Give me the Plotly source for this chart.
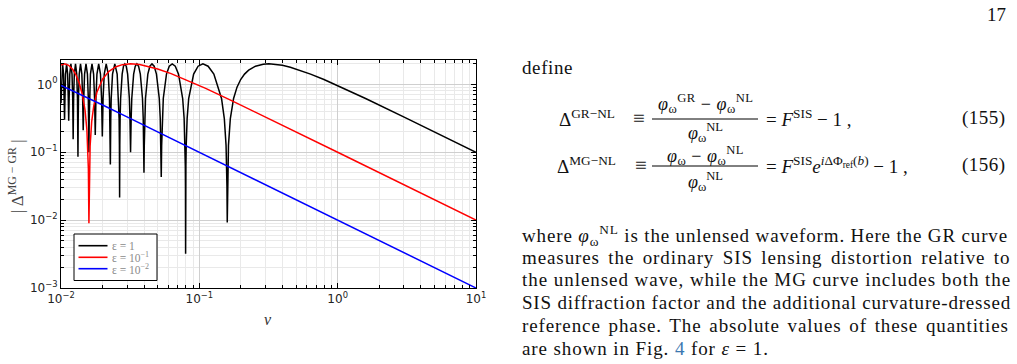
import plotly.graph_objects as go

# ---------------- data ----------------
series_names = ["ε = 1", "ε = 10<sup>−1</sup>", "ε = 10<sup>−2</sup>"]
series_colors = ["#000000", "#ff0000", "#0000ff"]

nu_eps1 = [
    0.0100000, 0.0101051, 0.0102681, 0.0104364, 0.0105401, 0.0106103,
    0.0106815, 0.0107901, 0.0109762, 0.0111688, 0.0112876, 0.0113682,
    0.0114500, 0.0115749, 0.0117893, 0.0120117, 0.0121492, 0.0121958, 0.0122427,
    0.0122899, 0.0123376, 0.0124827, 0.0127324, 0.0129922, 0.0131533, 0.0132079, 0.0132408, 0.0132629,
    0.0132851, 0.0133184, 0.0133743, 0.0135451, 0.0138396, 0.0141471, 0.0143383, 0.0144032, 0.0144686,
    0.0145347, 0.0146014, 0.0148051, 0.0151576, 0.0155273, 0.0157579, 0.0158363, 0.0159155,
    0.0159955, 0.0160763, 0.0163236, 0.0167531, 0.0172059, 0.0174896, 0.0175862, 0.0176839,
    0.0177827, 0.0178826, 0.0181891, 0.0187241, 0.0192915, 0.0196488, 0.0197708, 0.0198944,
    0.0200195, 0.0201462, 0.0205361, 0.0212207, 0.0219524, 0.0224162, 0.0225752, 0.0226716, 0.0227364,
    0.0228015, 0.0229000, 0.0230659, 0.0235785, 0.0244854, 0.0254648, 0.0260910, 0.0263066, 0.0264377, 0.0265258,
    0.0266145, 0.0267487, 0.0269754, 0.0276791, 0.0282942, 0.0289373, 0.0296102, 0.0303152, 0.0312068, 0.0315158, 0.0318310,
    0.0321525, 0.0324806, 0.0335063, 0.0344118, 0.0353678, 0.0363783, 0.0374482, 0.0388183, 0.0392975, 0.0395907, 0.0397887,
    0.0399887, 0.0402924, 0.0408090, 0.0424413, 0.0439048, 0.0454728, 0.0471570, 0.0489707, 0.0513403, 0.0521819, 0.0527003, 0.0530516,
    0.0534077, 0.0539508, 0.0548810, 0.0578745, 0.0606304, 0.0636620, 0.0670126, 0.0707355, 0.0757881, 0.0776365, 0.0787896, 0.0791816, 0.0793790, 0.0795775,
    0.0797769, 0.0799773, 0.0803813, 0.0816179, 0.0837657, 0.0909457, 0.0979415, 0.1061033, 0.1157490, 0.1273239, 0.1446863, 0.1515761, 0.1560342, 0.1575791, 0.1583631, 0.1591549,
    0.1599547, 0.1607625, 0.1624030, 0.1675315, 0.1768388, 0.1872411, 0.1989437, 0.2122066, 0.2273641, 0.2546479, 0.2893725, 0.3183099,
    0.3536776, 0.3978874, 0.4547283, 0.5305165, 0.6366198, 0.7957747, 1.0610330, 1.591549, 3.183099, 10.0,
]
dMG_eps1 = [
    0.527, 1.414, 2.0, 1.414, 0.618, 0.30,
    0.618, 1.414, 2.0, 1.414, 0.618, 0.29,
    0.618, 1.414, 2.0, 1.414, 0.618, 0.313, 0.155,
    0.313, 0.618, 1.414, 2.0, 1.414, 0.618, 0.313, 0.126, 0.086,
    0.126, 0.313, 0.618, 1.414, 2.0, 1.414, 0.618, 0.313, 0.21,
    0.313, 0.618, 1.414, 2.0, 1.414, 0.618, 0.313, 0.10,
    0.313, 0.618, 1.414, 2.0, 1.414, 0.618, 0.313, 0.18,
    0.313, 0.618, 1.414, 2.0, 1.414, 0.618, 0.313, 0.17,
    0.313, 0.618, 1.414, 2.0, 1.414, 0.618, 0.313, 0.126, 0.066,
    0.126, 0.313, 0.618, 1.414, 2.0, 1.414, 0.618, 0.313, 0.126, 0.0216,
    0.126, 0.313, 0.618, 1.414, 1.848, 2.0, 1.848, 1.414, 0.618, 0.313, 0.10,
    0.313, 0.618, 1.414, 1.848, 2.0, 1.848, 1.414, 0.618, 0.313, 0.126, 0.05,
    0.126, 0.313, 0.618, 1.414, 1.848, 2.0, 1.848, 1.414, 0.618, 0.313, 0.126, 0.043,
    0.126, 0.313, 0.618, 1.414, 1.848, 2.0, 1.848, 1.414, 0.618, 0.313, 0.126, 0.0628, 0.0314, 0.0032,
    0.0314, 0.0628, 0.126, 0.313, 0.618, 1.414, 1.848, 2.0, 1.848, 1.414, 0.618, 0.313, 0.126, 0.0628, 0.0314, 0.0092,
    0.0314, 0.0628, 0.126, 0.313, 0.618, 0.908, 1.176, 1.414, 1.618, 1.848, 1.975, 2.0,
    1.975, 1.902, 1.782, 1.618, 1.414, 1.176, 0.908, 0.618, 0.313, 0.09996,
]

nu_eps01 = [
    0.0100000, 0.0106103, 0.0113636, 0.0121951, 0.0128205, 0.0135135, 0.0142857,
    0.0149254, 0.0153846, 0.0156250, 0.0157729, 0.0159155, 0.0160772, 0.0162338,
    0.0166667, 0.0172414, 0.0181818, 0.0200000, 0.0222222, 0.0250000, 0.0277778,
    0.0318310, 0.0370370, 0.0434783, 0.0500000, 0.0625000, 0.0833333, 0.1111111,
    0.1666667, 0.2500000, 0.5000000, 1.0, 10.0,
]
dMG_eps01 = [
    1.918, 2.0, 1.903, 1.637, 1.376, 1.060, 0.702,
    0.415, 0.216, 0.117, 0.0568, 0.009, 0.0632, 0.123,
    0.282, 0.478, 0.763, 1.197, 1.556, 1.819, 1.948,
    2.0, 1.951, 1.826, 1.683, 1.435, 1.129, 0.870,
    0.591, 0.397, 0.1997, 0.09998, 0.0100,
]

nu_eps001 = [0.01, 0.0125, 0.016, 0.02, 0.03, 0.05, 0.1, 1.0, 10.0]
dMG_eps001 = [0.959, 0.779, 0.615, 0.495, 0.332, 0.1997, 0.09998, 0.0100, 0.0010]

x_tickvals = [0.01, 0.1, 1, 10]
x_ticktext = ["10<sup>−2</sup>", "10<sup>−1</sup>", "10<sup>0</sup>", "10<sup>1</sup>"]
y_tickvals = [0.001, 0.01, 0.1, 1]
y_ticktext = ["10<sup>−3</sup>", "10<sup>−2</sup>", "10<sup>−1</sup>", "10<sup>0</sup>"]

# ---------------- layout geometry ----------------
W, H = 1017, 364
ML, MT = 61, 60
PW, PH = 415, 228
MR, MB = W - ML - PW, H - MT - PH

def px(x):
    return (x - ML) / PW

def py(y):
    return 1 - (y - MT) / PH

SERIF = "Liberation Serif, DejaVu Serif, serif"
SANS = "DejaVu Sans, sans-serif"

fig = go.Figure()
for xs, ys, name, col in [
    (nu_eps1, dMG_eps1, series_names[0], series_colors[0]),
    (nu_eps01, dMG_eps01, series_names[1], series_colors[1]),
    (nu_eps001, dMG_eps001, series_names[2], series_colors[2]),
]:
    fig.add_trace(go.Scatter(x=xs, y=ys, mode="lines", name=name,
                             line=dict(color=col, width=1.5), showlegend=False))

minor_x = [m * 10.0 ** e for e in range(-2, 1) for m in range(2, 10)]
minor_y = [m * 10.0 ** e for e in range(-3, 1) for m in range(2, 10)]

axis_common = dict(
    type="log", showline=True, linecolor="black", linewidth=1, mirror="allticks",
    ticks="inside", ticklen=5, tickcolor="black", tickwidth=1,
    showgrid=True, gridcolor="#cfcfcf", gridwidth=1,
    tickfont=dict(family=SANS, size=12, color="#222"),
    zeroline=False,
)
fig.update_xaxes(range=[-2, 1], tickvals=x_tickvals, ticktext=x_ticktext,
                 minor=dict(tickvals=minor_x, ticks="inside", ticklen=3, tickcolor="black",
                            showgrid=True, gridcolor="#e9e9e9", gridwidth=1),
                 **axis_common)
fig.update_yaxes(range=[-3, 0.358], tickvals=y_tickvals, ticktext=y_ticktext,
                 minor=dict(tickvals=minor_y, ticks="inside", ticklen=3, tickcolor="black",
                            showgrid=True, gridcolor="#e9e9e9", gridwidth=1),
                 **axis_common)

shapes = []
annotations = []

def ann(x, y, text, size=19, xanchor="left", color="#111", family=SERIF, angle=0):
    annotations.append(dict(x=px(x), y=py(y), xref="paper", yref="paper", text=text,
                            showarrow=False, xanchor=xanchor, yanchor="middle",
                            textangle=angle,
                            font=dict(family=family, size=size, color=color)))

def hline(x0, x1, y, color="black", width=1.0):
    shapes.append(dict(type="line", xref="paper", yref="paper",
                       x0=px(x0), x1=px(x1), y0=py(y), y1=py(y),
                       line=dict(color=color, width=width), layer="above"))

def spaced(text, ls, ws=0.0):
    return "<span style='letter-spacing:%.2fpx;word-spacing:%.2fpx'>%s</span>" % (ls, ws, text)

# axis titles
ann(268, 319, "<i>ν</i>", size=16, xanchor="center", color="#333")
ann(16, 176, "| Δ<sup>MG − GR</sup> |", size=17, xanchor="center", color="#444", angle=-90)

# legend (drawn box)
shapes.append(dict(type="rect", xref="paper", yref="paper",
                   x0=px(74), x1=px(157), y0=py(234), y1=py(280.5),
                   line=dict(color="black", width=1), fillcolor="white", layer="above"))
for yy, name, col in zip([245.7, 257.3, 268.7], series_names, series_colors):
    hline(78.5, 107.5, yy, color=col, width=1.6)
    ann(110, yy, name, size=11.5, color="#8a8a8a")

# page text
ann(1008, 14, "17", size=19, xanchor="right")
ann(520, 67, spaced("define", 0.6), size=19)

FR = 18  # font size of fraction parts

# equation (155)
ann(557, 118, "Δ<sup>GR−NL</sup>", size=19)
ann(631, 118, "≡", size=21)
ann(705, 104, spaced("<i>φ</i><sub>ω</sub><sup>GR</sup> − <i>φ</i><sub>ω</sub><sup>NL</sup>", 0.5), size=FR, xanchor="center")
hline(652, 758, 119, width=1)
ann(705, 132, "<i>φ</i><sub>ω</sub><sup>NL</sup>", size=FR, xanchor="center")
ann(764, 118, "= <i>F</i><sup>SIS</sup> − 1 ,", size=19)
ann(1008, 118, spaced("(155)", 0.5), size=19, xanchor="right")

# equation (156)
ann(555, 165, "Δ<sup>MG−NL</sup>", size=19)
ann(633, 165, "≡", size=21)
ann(705, 155.5, spaced("<i>φ</i><sub>ω</sub> − <i>φ</i><sub>ω</sub><sup>NL</sup>", 0.5), size=FR, xanchor="center")
hline(652, 758, 166, width=1)
ann(705, 181, "<i>φ</i><sub>ω</sub><sup>NL</sup>", size=FR, xanchor="center")
ann(764, 165, "= <i>F</i><sup>SIS</sup><i>e</i><sup><i>i</i>ΔΦ<sub>ref</sub>(<i>b</i>)</sup> − 1 ,", size=19)
ann(1008, 165, spaced("(156)", 0.5), size=19, xanchor="right")

body = [
    (235, "where <i>φ</i><sub>ω</sub><sup>NL</sup> is the unlensed waveform. Here the GR curve", 0.85, 0.0),
    (257, "measures the ordinary SIS lensing distortion relative to", 0.9, 2.8),
    (279.5, "the unlensed wave, while the MG curve includes both the", 0.95, 0.0),
    (302, "SIS diffraction factor and the additional curvature-dressed", 0.8, 0.0),
    (325, "reference phase. The absolute values of these quantities", 0.9, 2.1),
    (348, "are shown in Fig. <span style='color:#3b78b0'>4</span> for <i>ε</i> = 1.", 0.9, 0.0),
]
for yy, t, ls, ws in body:
    ann(520, yy, spaced(t, ls, ws), size=19)

fig.update_layout(
    width=W, height=H,
    margin=dict(l=ML, r=MR, t=MT, b=MB, pad=0),
    paper_bgcolor="white", plot_bgcolor="white",
    showlegend=False,
    shapes=shapes, annotations=annotations,
)

fig.write_html("out.html")
